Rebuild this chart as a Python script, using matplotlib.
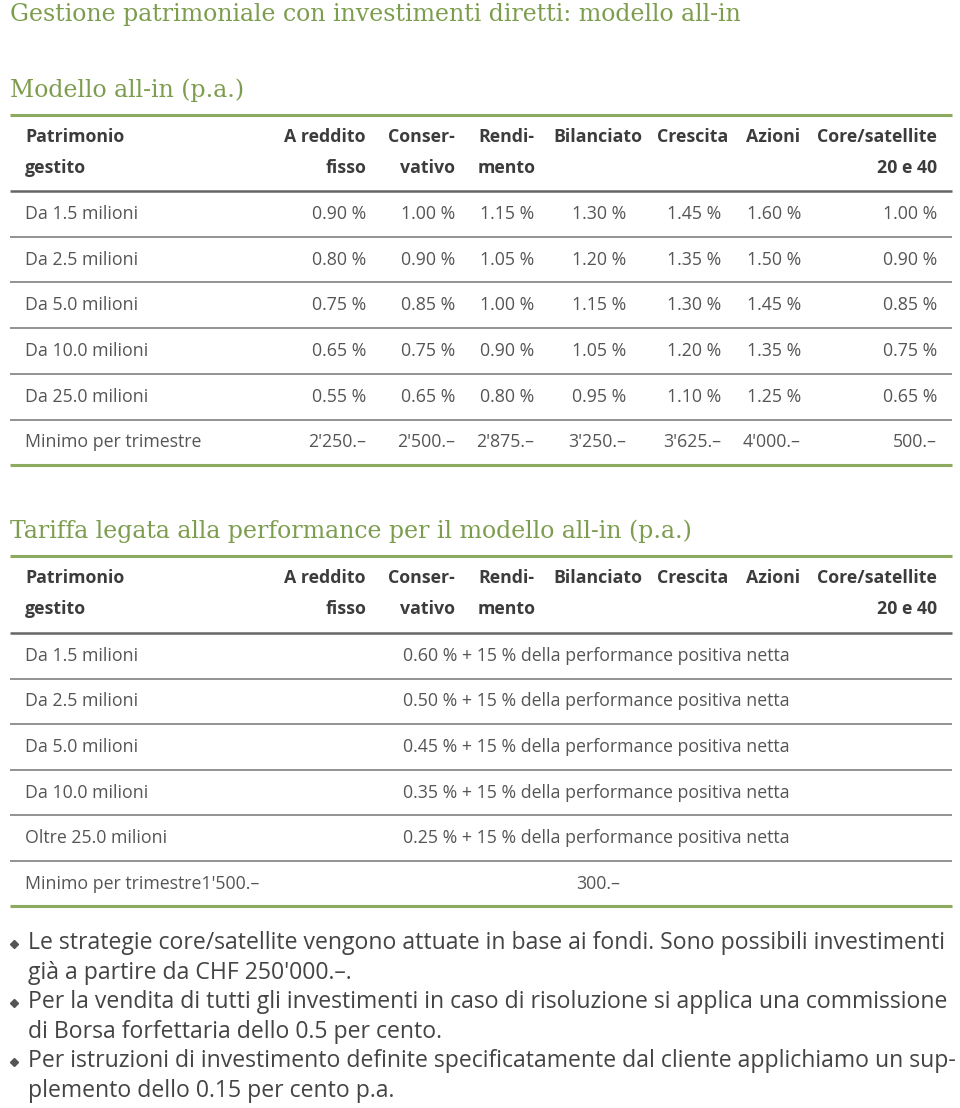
import matplotlib
matplotlib.use("Agg")
import matplotlib.pyplot as plt

# ---------------- data ----------------
title_main = "Gestione patrimoniale con investimenti diretti: modello all-in"
title_t1 = "Modello all-in (p.a.)"
title_t2 = "Tariffa legata alla performance per il modello all-in (p.a.)"

header_left = ["Patrimonio", "gestito"]
header_cols = [
    ["A reddito", "fisso"],
    ["Conser-", "vativo"],
    ["Rendi-", "mento"],
    ["Bilanciato", ""],
    ["Crescita", ""],
    ["Azioni", ""],
    ["Core/satellite", "20 e 40"],
]

t1_rows = ["Da 1.5 milioni", "Da 2.5 milioni", "Da 5.0 milioni",
           "Da 10.0 milioni", "Da 25.0 milioni"]
fisso        = [0.90, 0.80, 0.75, 0.65, 0.55]
conservativo = [1.00, 0.90, 0.85, 0.75, 0.65]
rendimento   = [1.15, 1.05, 1.00, 0.90, 0.80]
bilanciato   = [1.30, 1.20, 1.15, 1.05, 0.95]
crescita     = [1.45, 1.35, 1.30, 1.20, 1.10]
azioni       = [1.60, 1.50, 1.45, 1.35, 1.25]
core_sat     = [1.00, 0.90, 0.85, 0.75, 0.65]
min_label = "Minimo per trimestre"
min_quarter = ["2'250.–", "2'500.–", "2'875.–", "3'250.–", "3'625.–", "4'000.–", "500.–"]

t2_rows = ["Da 1.5 milioni", "Da 2.5 milioni", "Da 5.0 milioni",
           "Da 10.0 milioni", "Oltre 25.0 milioni"]
perf_base = [0.60, 0.50, 0.45, 0.35, 0.25]
perf_share = [15, 15, 15, 15, 15]
t2_min_label = "Minimo per trimestre1'500.–"
t2_min_value = "300.–"

notes = [
    ["Le strategie core/satellite vengono attuate in base ai fondi. Sono possibili investimenti",
     "già a partire da CHF 250'000.–."],
    ["Per la vendita di tutti gli investimenti in caso di risoluzione si applica una commissione",
     "di Borsa forfettaria dello 0.5 per cento."],
    ["Per istruzioni di investimento definite specificatamente dal cliente applichiamo un sup-",
     "plemento dello 0.15 per cento p.a."],
]

# ---------------- style ----------------
GREEN = "#7d9d4e"
GREEN_LINE = "#8dab5f"
HEAD = "#3c3c3c"
TXT = "#555555"
SANS = "Open Sans"
SERIF = "DejaVu Serif"

W, H = 960, 1108
fig = plt.figure(figsize=(W / 100, H / 100), dpi=100)
ax = fig.add_axes([0, 0, 1, 1])
ax.set_xlim(0, W)
ax.set_ylim(H, 0)
ax.axis("off")

XL, XR = 10, 952
head_anchor = [(366, "right"), (455, "right"), (478, "left"), (553, "left"),
               (657, "left"), (746, "left"), (937, "right")]
val_right = [366, 455, 534, 626, 721, 801, 937]

fs_title = 17
fs_head = 12.8
fs_cell = 12.8
fs_note = 16.6


def hline(y, color, lw):
    ax.plot([XL, XR], [y, y], color=color, lw=lw, solid_capstyle="butt")


def header(y_top):
    y1, y2 = y_top + 22, y_top + 53
    ax.text(25, y1, header_left[0], fontsize=fs_head, fontweight="bold", color=HEAD,
            family=SANS, va="center", ha="left")
    ax.text(25, y2, header_left[1], fontsize=fs_head, fontweight="bold", color=HEAD,
            family=SANS, va="center", ha="left")
    for (x, ha), (a, b) in zip(head_anchor, header_cols):
        ax.text(x, y1, a, fontsize=fs_head, fontweight="bold", color=HEAD,
                family=SANS, va="center", ha=ha)
        if b:
            ax.text(x, y2, b, fontsize=fs_head, fontweight="bold", color=HEAD,
                    family=SANS, va="center", ha=ha)


# titles
ax.text(10, 15, title_main, fontsize=fs_title, color=GREEN, family=SERIF,
        va="center", ha="left")
ax.text(10, 90, title_t1, fontsize=fs_title, color=GREEN, family=SERIF,
        va="center", ha="left")
ax.text(10, 531, title_t2, fontsize=fs_title, color=GREEN, family=SERIF,
        va="center", ha="left")

# ---------- table 1 ----------
t1_top = 115
hline(t1_top, GREEN_LINE, 2.2)
header(t1_top)
hline(191, "#666666", 1.8)
row_h = 45.7
cols = [fisso, conservativo, rendimento, bilanciato, crescita, azioni, core_sat]
for i, lab in enumerate(t1_rows):
    yc = 191 + row_h * (i + 0.5)
    ax.text(25, yc, lab, fontsize=fs_cell, color=TXT, family=SANS, va="center", ha="left")
    for x, col in zip(val_right, cols):
        ax.text(x, yc, f"{col[i]:.2f} %", fontsize=fs_cell, color=TXT, family=SANS,
                va="center", ha="right")
    hline(191 + row_h * (i + 1), "#8a8a8a", 1.3)
yc = 191 + row_h * 5.5
ax.text(25, yc, min_label, fontsize=fs_cell, color=TXT, family=SANS, va="center", ha="left")
for x, v in zip(val_right, min_quarter):
    ax.text(x, yc, v, fontsize=fs_cell, color=TXT, family=SANS, va="center", ha="right")
hline(465, GREEN_LINE, 2.2)

# ---------- table 2 ----------
t2_top = 556
hline(t2_top, GREEN_LINE, 2.2)
header(t2_top)
hline(633, "#666666", 1.8)
row_h2 = 45.6
for i, lab in enumerate(t2_rows):
    yc = 633 + row_h2 * (i + 0.5)
    ax.text(25, yc, lab, fontsize=fs_cell, color=TXT, family=SANS, va="center", ha="left")
    ax.text(403, yc, f"{perf_base[i]:.2f} % + {perf_share[i]} % della performance positiva netta",
            fontsize=fs_cell, color=TXT, family=SANS, va="center", ha="left")
    hline(633 + row_h2 * (i + 1), "#8a8a8a", 1.3)
yc = 633 + row_h2 * 5.5
ax.text(25, yc, t2_min_label, fontsize=fs_cell, color=TXT, family=SANS, va="center", ha="left")
ax.text(620, yc, t2_min_value, fontsize=fs_cell, color=TXT, family=SANS, va="center", ha="right")
hline(906, GREEN_LINE, 2.2)

# ---------- notes ----------
y = 943
for lines in notes:
    ax.plot([14], [y + 1], marker="D", markersize=4.2, color="#555555", lw=0)
    for ln in lines:
        ax.text(28, y, ln, fontsize=fs_note, color="#444444", family=SANS,
                va="center", ha="left")
        y += 29.6

fig.savefig("out.png", dpi=100)
